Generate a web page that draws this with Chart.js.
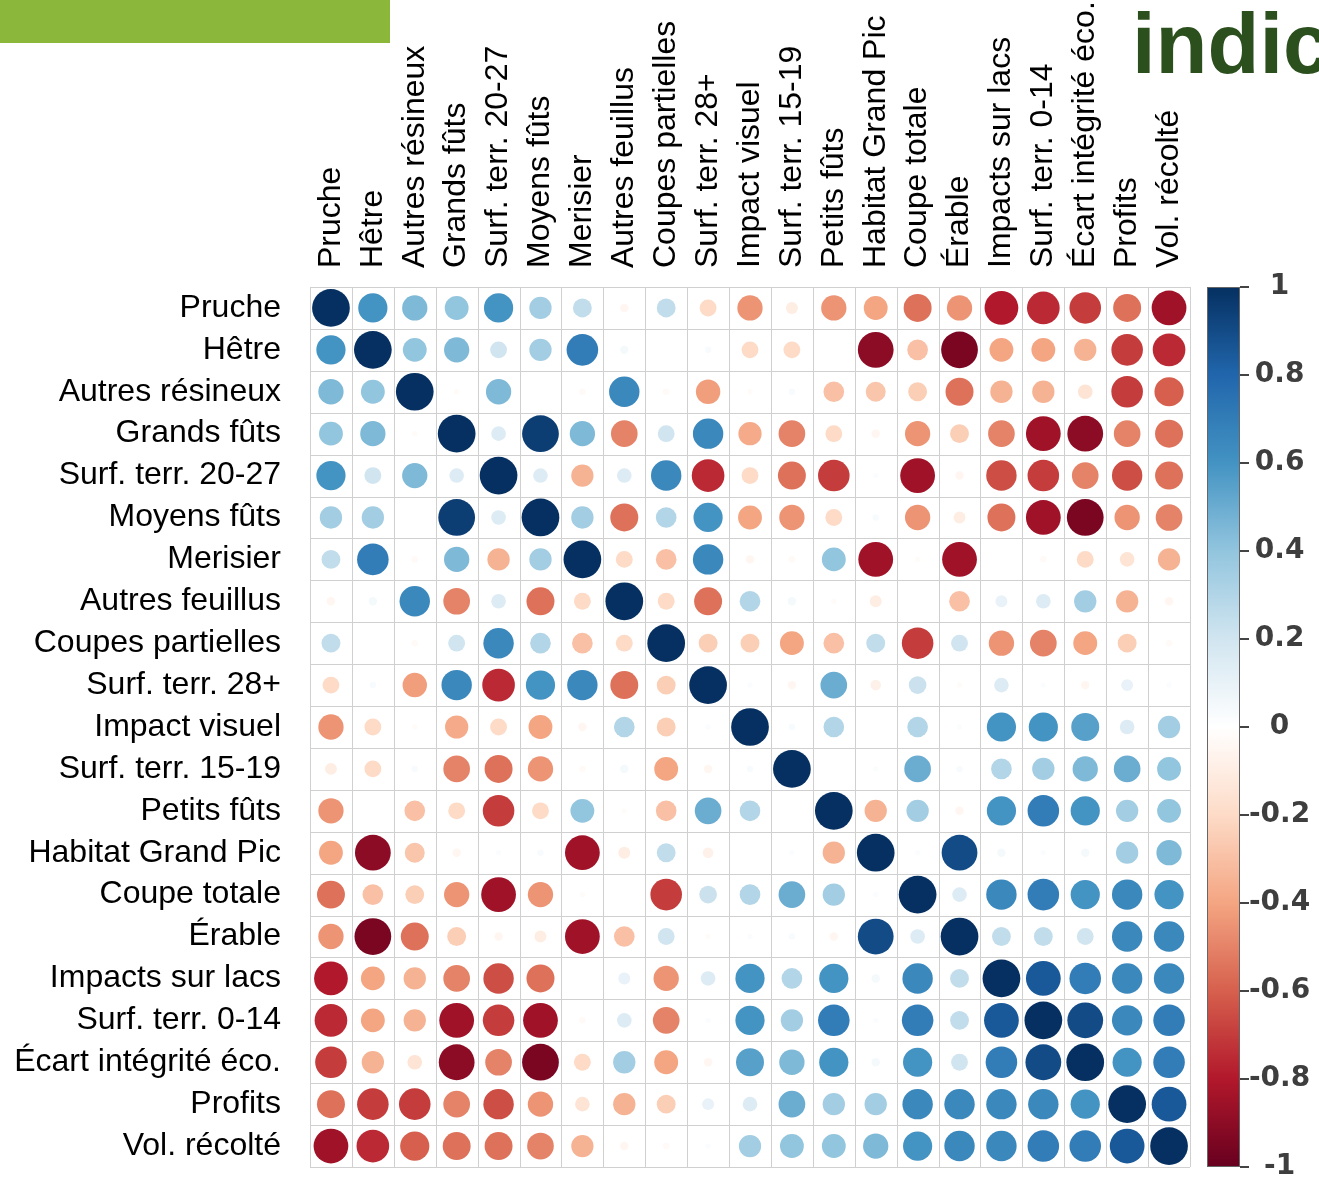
<!DOCTYPE html>
<html>
<head>
<meta charset="utf-8">
<script src="https://cdn.jsdelivr.net/npm/chart.js@4.4.1/dist/chart.umd.min.js"></script>
<style>
	html, body { margin: 0; padding: 0; background: #fff; }
	#wrap { position: relative; width: 1319px; height: 1179px; }
</style>
</head>
<body>
<div id="wrap"><canvas id="corr" width="1319" height="1179"></canvas></div>
<script>
var vars = ['Pruche', 'Hêtre', 'Autres résineux', 'Grands fûts', 'Surf. terr. 20-27', 'Moyens fûts',
	'Merisier', 'Autres feuillus', 'Coupes partielles', 'Surf. terr. 28+', 'Impact visuel',
	'Surf. terr. 15-19', 'Petits fûts', 'Habitat Grand Pic', 'Coupe totale', 'Érable',
	'Impacts sur lacs', 'Surf. terr. 0-14', 'Écart intégrité éco.', 'Profits', 'Vol. récolté'];

// one row of the correlation matrix per variable, same order as vars
var pruche     = [1, 0.6, 0.45, 0.4, 0.6, 0.35, 0.25, -0.05, 0.25, -0.2, -0.45, -0.1, -0.45, -0.4, -0.55, -0.45, -0.8, -0.75, -0.7, -0.55, -0.85];
var hetre      = [0.6, 1, 0.4, 0.45, 0.2, 0.35, 0.7, 0.05, 0, 0.03, -0.2, -0.2, 0, -0.9, -0.3, -0.95, -0.4, -0.4, -0.35, -0.7, -0.75];
var resineux   = [0.45, 0.4, 1, -0.02, 0.45, 0, -0.03, 0.65, -0.03, -0.42, -0.02, 0.03, -0.3, -0.28, -0.25, -0.55, -0.35, -0.35, -0.15, -0.7, -0.6];
var grands     = [0.4, 0.45, -0.02, 1, 0.15, 0.95, 0.45, -0.5, 0.2, 0.65, -0.38, -0.5, -0.2, -0.05, -0.45, -0.25, -0.5, -0.85, -0.9, -0.5, -0.55];
var surf2027   = [0.6, 0.2, 0.45, 0.15, 1, 0.15, -0.35, 0.15, 0.65, -0.75, -0.2, -0.55, -0.7, 0.02, -0.85, -0.05, -0.65, -0.7, -0.5, -0.65, -0.55];
var moyens     = [0.35, 0.35, 0, 0.95, 0.15, 1, 0.35, -0.55, 0.3, 0.6, -0.4, -0.45, -0.2, 0.03, -0.45, -0.1, -0.55, -0.85, -0.95, -0.45, -0.5];
var merisier   = [0.25, 0.7, -0.03, 0.45, -0.35, 0.35, 1, -0.2, -0.3, 0.65, -0.05, -0.03, 0.4, -0.85, -0.02, -0.85, 0, -0.03, -0.2, -0.15, -0.35];
var feuillus   = [-0.05, 0.05, 0.65, -0.5, 0.15, -0.55, -0.2, 1, -0.2, -0.55, 0.3, 0.05, -0.02, -0.1, 0, -0.3, 0.1, 0.15, 0.35, -0.35, -0.05];
var partielles = [0.25, 0, -0.03, 0.2, 0.65, 0.3, -0.3, -0.2, 1, -0.25, -0.25, -0.4, -0.3, 0.25, -0.7, 0.2, -0.45, -0.5, -0.4, -0.25, -0.03];
var surf28     = [-0.2, 0.03, -0.42, 0.65, -0.75, 0.6, 0.65, -0.55, -0.25, 1, 0.02, -0.05, 0.5, -0.08, 0.22, -0.02, 0.15, 0.02, -0.05, 0.1, 0.02];
var visuel     = [-0.45, -0.2, -0.02, -0.38, -0.2, -0.4, -0.05, 0.3, -0.25, 0.02, 1, 0.03, 0.3, 0, 0.3, 0.02, 0.6, 0.6, 0.55, 0.15, 0.35];
var surf1519   = [-0.1, -0.2, 0.03, -0.5, -0.55, -0.45, -0.03, 0.05, -0.4, -0.05, 0.03, 1, 0, 0.02, 0.5, 0.03, 0.3, 0.35, 0.45, 0.5, 0.4];
var petits     = [-0.45, 0, -0.3, -0.2, -0.7, -0.2, 0.4, -0.02, -0.3, 0.5, 0.3, 0, 1, -0.35, 0.35, -0.05, 0.6, 0.7, 0.6, 0.35, 0.4];
var grandPic   = [-0.4, -0.9, -0.28, -0.05, 0.02, 0.03, -0.85, -0.1, 0.25, -0.08, 0, 0.02, -0.35, 1, 0.02, 0.9, 0.05, 0.02, 0.05, 0.35, 0.45];
var totale     = [-0.55, -0.3, -0.25, -0.45, -0.85, -0.45, -0.02, 0, -0.7, 0.22, 0.3, 0.5, 0.35, 0.02, 1, 0.15, 0.65, 0.7, 0.6, 0.65, 0.6];
var erable     = [-0.45, -0.95, -0.55, -0.25, -0.05, -0.1, -0.85, -0.3, 0.2, -0.02, 0.02, 0.03, -0.05, 0.9, 0.15, 1, 0.25, 0.25, 0.2, 0.65, 0.65];
var lacs       = [-0.8, -0.4, -0.35, -0.5, -0.65, -0.55, 0, 0.1, -0.45, 0.15, 0.6, 0.3, 0.6, 0.05, 0.65, 0.25, 1, 0.85, 0.7, 0.65, 0.65];
var surf014    = [-0.75, -0.4, -0.35, -0.85, -0.7, -0.85, -0.03, 0.15, -0.5, 0.02, 0.6, 0.35, 0.7, 0.02, 0.7, 0.25, 0.85, 1, 0.9, 0.65, 0.7];
var ecart      = [-0.7, -0.35, -0.15, -0.9, -0.5, -0.95, -0.2, 0.35, -0.4, -0.05, 0.55, 0.45, 0.6, 0.05, 0.6, 0.2, 0.7, 0.9, 1, 0.6, 0.7];
var profits    = [-0.55, -0.7, -0.7, -0.5, -0.65, -0.45, -0.15, -0.35, -0.25, 0.1, 0.15, 0.5, 0.35, 0.35, 0.65, 0.65, 0.65, 0.65, 0.6, 1, 0.85];
var volume     = [-0.85, -0.75, -0.6, -0.55, -0.55, -0.5, -0.35, -0.05, -0.03, 0.02, 0.35, 0.4, 0.4, 0.45, 0.6, 0.65, 0.65, 0.7, 0.7, 0.85, 1];

var rows = [pruche, hetre, resineux, grands, surf2027, moyens, merisier, feuillus, partielles, surf28,
	visuel, surf1519, petits, grandPic, totale, erable, lacs, surf014, ecart, profits, volume];

// colour bar ticks
var barTicks = [1, 0.8, 0.6, 0.4, 0.2, 0, -0.2, -0.4, -0.6, -0.8, -1];

// RdBu ramp from -1 to 1
var ramp = ['#67001F', '#B2182B', '#D6604D', '#F4A582', '#FDDBC7', '#FFFFFF',
	'#D1E5F0', '#92C5DE', '#4393C3', '#2166AC', '#053061'];

function hexRgb(h) {
	return [parseInt(h.substr(1, 2), 16), parseInt(h.substr(3, 2), 16), parseInt(h.substr(5, 2), 16)];
}

function corrColor(v) {
	var t = (v + 1) / 2 * (ramp.length - 1);
	var i = Math.min(Math.floor(t), ramp.length - 2);
	var f = t - i;
	var a = hexRgb(ramp[i]), b = hexRgb(ramp[i + 1]);
	var c = a.map(function(x, k) { return Math.round(x + (b[k] - x) * f); });
	return 'rgb(' + c.join(',') + ')';
}

var points = [];
rows.forEach(function(row, r) {
	row.forEach(function(v, c) {
		points.push({x: c, y: r, v: v});
	});
});

function cellSize(chart) {
	var s = chart.scales.x;
	return Math.abs(s.getPixelForValue(1) - s.getPixelForValue(0));
}

function indexTicks(scale) {
	scale.ticks = vars.map(function(_, i) { return {value: i}; });
}

// cell borders, drawn under the circles
var gridPlugin = {
	id: 'cellGrid',
	beforeDatasetsDraw: function(chart) {
		var ctx = chart.ctx, xs = chart.scales.x, ys = chart.scales.y;
		var top = ys.getPixelForValue(-0.5), bottom = ys.getPixelForValue(vars.length - 0.5);
		var left = xs.getPixelForValue(-0.5), right = xs.getPixelForValue(vars.length - 0.5);
		ctx.save();
		ctx.strokeStyle = '#d0d0d0';
		ctx.lineWidth = 1;
		ctx.beginPath();
		for (var k = 0; k <= vars.length; k++) {
			var x = Math.round(xs.getPixelForValue(k - 0.5)) + 0.5;
			var y = Math.round(ys.getPixelForValue(k - 0.5)) + 0.5;
			ctx.moveTo(x, top);
			ctx.lineTo(x, bottom);
			ctx.moveTo(left, y);
			ctx.lineTo(right, y);
		}
		ctx.stroke();
		ctx.restore();
	}
};

// colour bar next to the matrix, on the cb scale
var barPlugin = {
	id: 'colorBar',
	afterDraw: function(chart) {
		var ctx = chart.ctx, cb = chart.scales.cb;
		var x0 = cb.left + 17, w = 33;
		var yTop = cb.getPixelForValue(1), yBot = cb.getPixelForValue(-1);
		var grad = ctx.createLinearGradient(0, yBot, 0, yTop);
		ramp.forEach(function(col, i) { grad.addColorStop(i / (ramp.length - 1), col); });
		ctx.save();
		ctx.fillStyle = grad;
		ctx.fillRect(x0, yTop, w, yBot - yTop);
		ctx.strokeStyle = '#666';
		ctx.lineWidth = 1;
		ctx.strokeRect(x0 + 0.5, yTop + 0.5, w - 1, yBot - yTop - 1);
		ctx.strokeStyle = '#444';
		ctx.lineWidth = 2;
		ctx.beginPath();
		barTicks.forEach(function(t) {
			var y = cb.getPixelForValue(t);
			ctx.moveTo(x0 + w, y);
			ctx.lineTo(x0 + w + 9, y);
		});
		ctx.stroke();
		ctx.restore();
	}
};

// slide decorations around the plot
var slidePlugin = {
	id: 'slide',
	beforeDraw: function(chart) {
		var ctx = chart.ctx;
		ctx.save();
		ctx.fillStyle = '#8bb83a';
		ctx.fillRect(0, 0, 390, 43);
		ctx.fillStyle = '#2c4f1e';
		ctx.font = 'bold 85px "Liberation Sans"';
		ctx.textBaseline = 'alphabetic';
		ctx.fillText('indicateurs', 1132, 73);
		ctx.restore();
	}
};

var labelFont = {family: '"Liberation Sans", Arial, sans-serif', size: 32};

// keep the vertical axes from reserving room for half a label at each end
function noEndPadding(s) {
	s.paddingTop = 0;
	s.paddingBottom = 0;
}

new Chart(document.getElementById('corr').getContext('2d'), {
	type: 'scatter',
	data: {
		datasets: [{
			data: points,
			pointStyle: 'circle',
			borderWidth: 0,
			pointRadius: function(ctx) {
				var p = ctx.raw;
				if (!p) return 0;
				return 0.45 * cellSize(ctx.chart) * Math.sqrt(Math.abs(p.v));
			},
			pointBackgroundColor: function(ctx) {
				return ctx.raw ? corrColor(ctx.raw.v) : '#fff';
			}
		}]
	},
	options: {
		responsive: false,
		animation: false,
		events: [],
		layout: {padding: {top: 0, left: 0, right: 0, bottom: 12}},
		plugins: {
			legend: {display: false},
			tooltip: {enabled: false}
		},
		scales: {
			x: {
				type: 'linear',
				position: 'top',
				min: -0.5,
				max: vars.length - 0.5,
				afterBuildTicks: indexTicks,
				afterFit: function(s) { s.height = 287; },
				grid: {display: false},
				border: {display: false},
				ticks: {
					autoSkip: false,
					minRotation: 90,
					maxRotation: 90,
					padding: 11,
					// rotated top labels are drawn one line height left of their tick
					labelOffset: 38.4,
					color: '#000',
					font: labelFont,
					callback: function(v) { return vars[v]; }
				}
			},
			y: {
				type: 'linear',
				position: 'left',
				reverse: true,
				min: -0.5,
				max: vars.length - 0.5,
				afterBuildTicks: indexTicks,
				afterFit: function(s) { s.width = 310; noEndPadding(s); },
				grid: {display: false},
				border: {display: false},
				ticks: {
					autoSkip: false,
					padding: 21,
					color: '#000',
					font: labelFont,
					callback: function(v) { return vars[v]; }
				}
			},
			cb: {
				type: 'linear',
				position: 'right',
				min: -1,
				max: 1,
				afterBuildTicks: function(scale) {
					scale.ticks = barTicks.map(function(t) { return {value: t}; });
				},
				afterFit: function(s) { s.width = 129; noEndPadding(s); },
				grid: {display: false},
				border: {display: false},
				ticks: {
					crossAlign: 'center',
					padding: 51,
					color: '#3e3e3e',
					font: {family: '"DejaVu Sans", sans-serif', size: 28, weight: 'bold'},
					callback: function(v) { return v === 0 ? '0' : String(v); }
				}
			}
		}
	},
	plugins: [slidePlugin, gridPlugin, barPlugin]
});
</script>
</body>
</html>
